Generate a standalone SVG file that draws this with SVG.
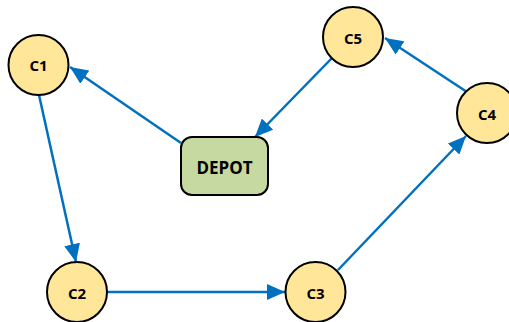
<svg xmlns="http://www.w3.org/2000/svg" width="509" height="322" viewBox="0 0 509 322">
  <style>
    .cust { fill: #FFE699; stroke: #000; stroke-width: 2; }
    .depot { fill: #C5D9A0; stroke: #000; stroke-width: 2; }
    .lbl { font-family: "Open Sans", "Liberation Sans", sans-serif; font-weight: bold; fill: #000; text-anchor: middle; dominant-baseline: central; }
    .edge { stroke: #0070C0; stroke-width: 2.5; fill: none; marker-end: url(#arrow); }
  </style>
  <defs>
    <marker id="arrow" markerUnits="userSpaceOnUse" markerWidth="19" markerHeight="16" refX="18" refY="8" orient="auto">
      <path d="M0,0 L18,8 L0,16 Z" fill="#0070C0"/>
    </marker>
  </defs>
  <rect width="509" height="322" fill="#fff"/>

  <g id="edges">
    <line class="edge" x1="181" y1="143" x2="70" y2="67"/>
    <line class="edge" x1="39" y1="95" x2="76" y2="262"/>
    <line class="edge" x1="107" y1="292" x2="285" y2="292"/>
    <line class="edge" x1="338" y1="270" x2="466" y2="136"/>
    <line class="edge" x1="467" y1="92" x2="385" y2="38"/>
    <line class="edge" x1="332" y1="58" x2="255" y2="137"/>
  </g>

  <g id="depot">
    <rect class="depot" x="181" y="137" width="87" height="58" rx="11"/>
    <text class="lbl" x="224.5" y="167" font-size="17">DEPOT</text>
  </g>
  <g id="c1">
    <circle class="cust" cx="38.5" cy="65" r="30"/>
    <text class="lbl" x="38.5" y="65" font-size="15">C1</text>
  </g>
  <g id="c2">
    <circle class="cust" cx="77" cy="292" r="30"/>
    <text class="lbl" x="77" y="293" font-size="15">C2</text>
  </g>
  <g id="c3">
    <circle class="cust" cx="315.5" cy="292" r="30"/>
    <text class="lbl" x="315.5" y="293" font-size="15">C3</text>
  </g>
  <g id="c4">
    <circle class="cust" cx="487" cy="113" r="30"/>
    <text class="lbl" x="487" y="114" font-size="15">C4</text>
  </g>
  <g id="c5">
    <circle class="cust" cx="353" cy="37" r="30"/>
    <text class="lbl" x="353" y="38" font-size="15">C5</text>
  </g>
</svg>
